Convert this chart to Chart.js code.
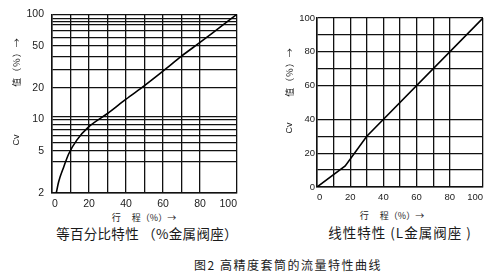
<!DOCTYPE html>
<html>
<head>
<meta charset="utf-8">
<script src="https://cdn.jsdelivr.net/npm/chart.js@4.4.1/dist/chart.umd.min.js"></script>
<style>
  html, body { margin: 0; padding: 0; background: #fff; }
  #wrap { position: relative; width: 500px; height: 277px; overflow: hidden; font-family: "Noto Sans CJK SC", sans-serif; color: #1a1a1a; }
  canvas { position: absolute; }
  .lbl { position: absolute; white-space: nowrap; line-height: 1; transform: translate(-50%, -50%); }
  .vert { transform: translate(-50%, -50%) rotate(-90deg); }
</style>
</head>
<body>
<div id="wrap">
  <canvas id="leftChart" width="250" height="210" style="left:0;top:0;width:250px;height:210px"></canvas>
  <canvas id="rightChart" width="250" height="205" style="left:250px;top:0;width:250px;height:205px"></canvas>

  <!-- axis titles -->
  <div class="lbl vert" style="left:16px;top:62px;font-size:9px;letter-spacing:1px">值（%）→</div>
  <div class="lbl vert" style="left:16px;top:140px;font-size:9px;font-family:'Liberation Sans'">Cv</div>
  <div class="lbl vert" style="left:289px;top:72px;font-size:9px;letter-spacing:1px">值（%）→</div>
  <div class="lbl vert" style="left:289px;top:128px;font-size:9px;font-family:'Liberation Sans'">Cv</div>

  <div class="lbl" style="left:144px;top:217px;font-size:9px">行　&nbsp;程（%）→</div>
  <div class="lbl" style="left:392px;top:215px;font-size:9px">行　&nbsp;程（%）→</div>

  <!-- subtitles -->
  <div class="lbl" style="left:147px;top:234px;font-size:13.5px;letter-spacing:0.3px">等百分比特性 （%金属阀座）</div>
  <div class="lbl" style="left:400px;top:233px;font-size:13.5px;letter-spacing:1px">线性特性 (L金属阀座 )</div>

  <div class="lbl" style="left:288px;top:265px;font-size:12px;letter-spacing:1.5px">图2 高精度套筒的流量特性曲线</div>
</div>

<script>
// equal percentage curve (log Cv)
const travelLeft = [2.3, 3.6, 6.3, 9, 13.5, 19.8, 30, 40, 50, 60, 70, 80, 90, 100]
const cvLeft = [2.0, 2.56, 3.52, 4.7, 6.4, 8.5, 11.4, 15.6, 21, 28.8, 40, 54, 73.5, 100]

// linear curve
const travelRight = [0, 17, 30, 100]
const cvRight = [0, 12.5, 30, 100]

// grid / tick values
const xGrid = [0, 10, 20, 30, 40, 50, 60, 70, 80, 100]
const xLabels = [0, 20, 40, 60, 80, 100]
const yGridLeft = [2, 4, 5, 6, 7, 8, 9, 10, 10.6, 20, 30, 40, 50, 60, 70, 80, 86, 90, 100]
const yLabelsLeft = [2, 5, 10, 20, 50, 100]
const yGridRight = [0, 10, 20, 30, 40, 60, 70, 80, 90, 100]
const yLabelsRight = [0, 20, 40, 60, 80, 100]

const toPoints = (xs, ys) => xs.map((x, i) => ({ x: x, y: ys[i] }))
const setTicks = (vals) => (scale) => { scale.ticks = vals.map(v => ({ value: v })) }
const onlyLabels = (vals) => (value) => vals.includes(value) ? String(value) : ''

const gridStyle = { color: '#111', lineWidth: 1.3, drawTicks: false }
const borderStyle = { display: true, color: '#111', width: 1.5 }

function makeChart(id, opts) {
  return new Chart(document.getElementById(id).getContext('2d'), {
    type: 'line',
    data: {
      datasets: [{
        data: toPoints(opts.xs, opts.ys),
        borderColor: '#000',
        borderWidth: 1.6,
        pointRadius: 0,
        tension: opts.tension,
        cubicInterpolationMode: opts.tension ? 'monotone' : 'default',
        fill: false
      }]
    },
    options: {
      responsive: false,
      animation: false,
      layout: { padding: opts.padding },
      plugins: { legend: { display: false }, tooltip: { enabled: false } },
      scales: {
        x: {
          type: 'linear',
          min: 0,
          max: 100,
          afterBuildTicks: setTicks(xGrid),
          afterFit: (s) => { s.height = opts.xHeight },
          grid: gridStyle,
          border: borderStyle,
          ticks: {
            autoSkip: false,
            maxRotation: 0,
            align: 'inner',
            padding: 5,
            color: '#222',
            font: { family: 'Liberation Sans', size: opts.fontSize },
            callback: onlyLabels(xLabels)
          }
        },
        y: {
          type: opts.yType,
          min: opts.yMin,
          max: 100,
          afterBuildTicks: setTicks(opts.yGrid),
          afterFit: (s) => { s.width = opts.yWidth },
          grid: gridStyle,
          border: borderStyle,
          ticks: {
            autoSkip: false,
            padding: opts.yPad,
            color: '#222',
            font: { family: 'Liberation Sans', size: opts.fontSize },
            callback: onlyLabels(opts.yLabels)
          }
        }
      }
    }
  })
}

makeChart('leftChart', {
  xs: travelLeft, ys: cvLeft, tension: 0.4,
  yType: 'logarithmic', yMin: 2, yGrid: yGridLeft, yLabels: yLabelsLeft,
  padding: { left: 0, top: 9, right: 13, bottom: 0 },
  xHeight: 17, yWidth: 52, yPad: 8, fontSize: 10.5
})

makeChart('rightChart', {
  xs: travelRight, ys: cvRight, tension: 0,
  yType: 'linear', yMin: 0, yGrid: yGridRight, yLabels: yLabelsRight,
  padding: { left: 0, top: 18, right: 17, bottom: 0 },
  xHeight: 18, yWidth: 67, yPad: 2, fontSize: 9.5
})
</script>
</body>
</html>
